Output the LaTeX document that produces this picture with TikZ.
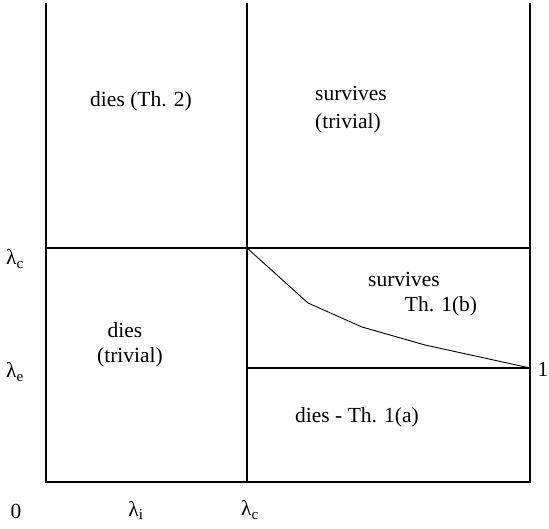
\documentclass[tikz,border=0pt]{standalone}
\usepackage{fontspec}
\setmainfont{Liberation Serif}
\begin{document}
\begin{tikzpicture}[x=1pt,y=-1pt,
  lbl/.style={font=\fontsize{21.5}{26}\selectfont, inner sep=0pt},
  frame/.style={line width=1.1pt, black},
  curve/.style={line width=0.9pt, black}]
\useasboundingbox (0,0) rectangle (549,529);
% grid coordinates
\coordinate (tl) at (46,3);
\coordinate (bl) at (46,482);
\coordinate (tm) at (247,3);
\coordinate (bm) at (247,482);
\coordinate (tr) at (530,3);
\coordinate (br) at (530,482);
\coordinate (cl) at (46,248);
\coordinate (cm) at (247,248);
\coordinate (cr) at (530,248);
\coordinate (em) at (247,368);
\coordinate (er) at (530,368);
\coordinate (p1) at (308,303);
\coordinate (p2) at (362,327);
\coordinate (p3) at (425,345);
% frame
\draw[frame] (tl) -- (bl) -- (br) -- (tr);
\draw[frame] (tm) -- (bm);
\draw[frame] (cl) -- (cr);
\draw[frame] (em) -- (er);
\draw[curve] (cm) -- (p1) -- (p2) -- (p3) -- (er);
% region labels
\node[lbl] (t1) at (141,101) {dies (Th. 2)};
\node[lbl, anchor=west] (t2) at (315,93) {survives};
\node[lbl, anchor=west] (t3) at (315,123) {(trivial)};
\node[lbl] (t4) at (404,279) {survives};
\node[lbl] (t5) at (441,306) {Th. 1(b)};
\node[lbl] (t6) at (125,330) {dies};
\node[lbl] (t7) at (130,357) {(trivial)};
\node[lbl] (t8) at (357,417) {dies - Th. 1(a)};
% axis labels
\node[lbl] (yc) at (15,259) {λ\textsubscript{c}};
\node[lbl] (ye) at (15,372) {λ\textsubscript{e}};
\node[lbl] (one) at (543,369) {1};
\node[lbl] (zero) at (16,511) {0};
\node[lbl] (xi) at (136,510) {λ\textsubscript{i}};
\node[lbl] (xc) at (250,510) {λ\textsubscript{c}};
\end{tikzpicture}
\end{document}
